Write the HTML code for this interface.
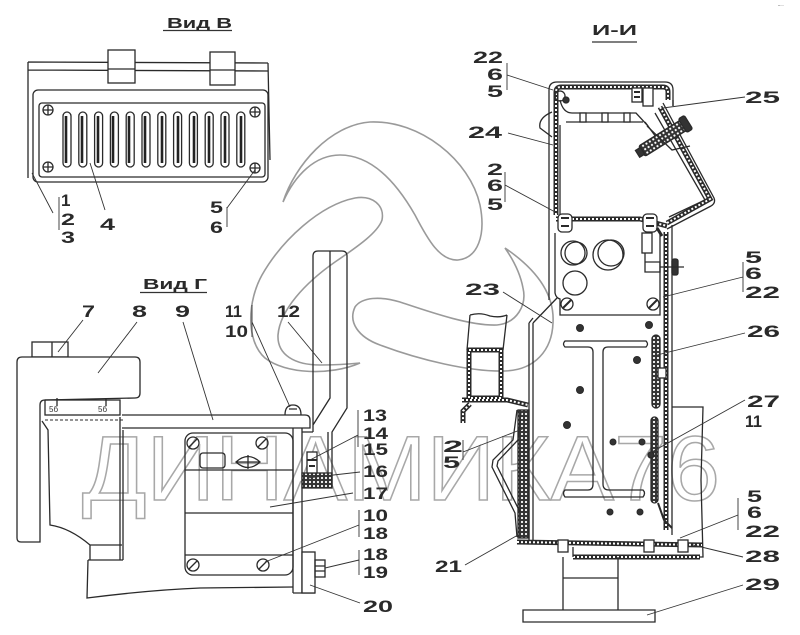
<!DOCTYPE html>
<html><head><meta charset="utf-8"><style>
html,body{margin:0;padding:0;background:#fff}
svg{display:block}
.l{font-family:"Liberation Sans",sans-serif;font-weight:bold;font-size:17px;fill:#2a2a2a}
.t{font-family:"Liberation Sans",sans-serif;font-weight:bold;font-size:15px;fill:#2a2a2a}
</style></head><body>
<svg width="800" height="635" viewBox="0 0 800 635" xmlns="http://www.w3.org/2000/svg">
<defs>
<pattern id="h" width="4" height="4" patternUnits="userSpaceOnUse"><rect width="4" height="4" fill="#333"/><circle cx="2" cy="2" r="1.1" fill="#fff"/></pattern>
</defs>
<rect width="800" height="635" fill="#fff"/>

<!-- watermark -->
<g fill="none" stroke="#9a9a9a" stroke-width="1.6">
<path d="M283,202 C295,165 330,125 370,122 C420,120 470,160 480,205 C486,235 478,258 458,260 C440,261 428,240 415,215 C395,180 370,155 340,155 C315,155 295,175 283,202 Z"/>
<path d="M360,363 C330,376 285,374 265,358 C245,340 248,300 262,275 C282,240 320,205 355,198 C372,195 385,205 382,220 C378,232 360,245 335,262 C305,283 280,310 278,335 C277,355 295,365 320,365 C335,365 350,364 360,363 Z"/>
<path d="M505,248 C530,265 555,290 553,323 C552,350 535,370 505,371 C470,372 420,360 380,345 C358,337 348,322 355,307 C362,297 380,296 400,302 C430,312 470,326 497,325 C517,323 527,305 523,288 C520,272 512,258 505,248 Z"/>
</g>
<text x="82" y="500" font-family="Liberation Sans, sans-serif" font-size="92" textLength="638" lengthAdjust="spacingAndGlyphs" fill="none" stroke="#a8a8a8" stroke-width="1.5">ДИНАМИКА76</text>

<!-- ============ VIEW B ============ -->
<text class="t" x="167" y="28" textLength="65" lengthAdjust="spacingAndGlyphs">Вид В</text>
<line x1="163" y1="30.5" x2="232" y2="30.5" stroke="#333" stroke-width="1.3"/>
<g stroke="#2a2a2a" fill="none" stroke-width="1.3">
<path d="M28,62 L268,63 M28,70 L268,71 M28,62 L28,178 M268,63 L270,160"/>
<rect x="108" y="50" width="27" height="33" fill="#fff"/>
<line x1="108" y1="69" x2="135" y2="69"/>
<rect x="210" y="52" width="25" height="33" fill="#fff"/>
<line x1="210" y1="70" x2="235" y2="70"/>
<rect x="33" y="90" width="235" height="92" rx="5" fill="#fff"/>
<rect x="39" y="103" width="226" height="74" rx="3"/>
<g>
<circle cx="48" cy="110" r="5"/><path d="M43,110h10M48,105v10"/>
<circle cx="255" cy="112" r="5"/><path d="M250,112h10M255,107v10"/>
<circle cx="48" cy="167" r="5"/><path d="M43,167h10M48,162v10"/>
<circle cx="255" cy="168" r="5"/><path d="M250,168h10M255,163v10"/>
</g>
<g>
<rect x="63" y="112" width="8" height="55" rx="4"/><rect x="78.8" y="112" width="8" height="55" rx="4"/><rect x="94.6" y="112" width="8" height="55" rx="4"/><rect x="110.4" y="112" width="8" height="55" rx="4"/><rect x="126.2" y="112" width="8" height="55" rx="4"/><rect x="142" y="112" width="8" height="55" rx="4"/><rect x="157.8" y="112" width="8" height="55" rx="4"/><rect x="173.6" y="112" width="8" height="55" rx="4"/><rect x="189.4" y="112" width="8" height="55" rx="4"/><rect x="205.2" y="112" width="8" height="55" rx="4"/><rect x="221" y="112" width="8" height="55" rx="4"/><rect x="236.8" y="112" width="8" height="55" rx="4"/>
</g>
<g stroke-width="2.6" stroke="#222">
<path d="M66,116v47M82,116v47M98,116v47M113,116v47M129,116v47M145,116v47M162,116v47M178,116v47M194,116v47M209,116v47M225,116v47M241,116v47"/>
</g>
</g>
<g stroke="#333" stroke-width="0.9" fill="none">
<path d="M53,213 L32,173 M59,197 L59,230 M105,210 L90,163 M227,208 L255,170 M227,207 L227,227"/>
</g>
<text class="l" x="61" y="206" font-size="13">1</text>
<text class="l" x="61" y="225" textLength="14" lengthAdjust="spacingAndGlyphs">2</text>
<text class="l" x="61" y="243" textLength="14" lengthAdjust="spacingAndGlyphs">3</text>
<text class="l" x="100" y="230" textLength="15" lengthAdjust="spacingAndGlyphs">4</text>
<text class="l" x="210" y="213" textLength="13" lengthAdjust="spacingAndGlyphs">5</text>
<text class="l" x="210" y="233" textLength="13" lengthAdjust="spacingAndGlyphs">6</text>

<!-- ============ VIEW Г ============ -->
<text class="t" x="143" y="289" textLength="64" lengthAdjust="spacingAndGlyphs">Вид Г</text>
<line x1="140" y1="292.5" x2="207" y2="292.5" stroke="#333" stroke-width="1.3"/>
<g stroke="#2a2a2a" fill="none" stroke-width="1.3">
<rect x="32" y="342" width="36" height="15"/><line x1="52" y1="342" x2="52" y2="357"/>
<path d="M17,362 Q17,357 22,357 L135,357 Q140,357 140,362 L140,393 Q140,398 135,398 L45,400 Q40,400 40,405 L40,542 L21,542 Q17,542 17,538 Z" fill="#fff"/>
<rect x="45" y="400" width="75" height="15"/>
<path d="M57,398v8M106,398v8"/>
<path d="M45,420 L125,420" stroke-dasharray="3 2" stroke-width="1"/>
<path d="M42,421 L48,430 L50,525 Q70,528 90,545 L90,560 M90,545 L122,545 M88,560 L123,560 M88,560 L87,598 Q150,590 200,588 L293,587"/>
<path d="M120,417 L120,560 M123,430 L123,560"/>
<path d="M122,415 L305,415 Q310,415 310,420 L310,428 L122,428"/>
<path d="M285,415 Q285,405 293,405 Q301,405 301,415 M289,409 L297,409"/>
<rect x="185" y="433" width="108" height="142" rx="8"/>
<path d="M185,470 L293,470 M185,513 L293,513 M185,555 L293,555"/>
<g>
<circle cx="193" cy="443" r="6"/><path d="M189,447 L197,439"/>
<circle cx="262" cy="443" r="6"/><path d="M258,447 L266,439"/>
<circle cx="193" cy="565" r="6"/><path d="M189,569 L197,561"/>
<circle cx="263" cy="565" r="6"/><path d="M259,569 L267,561"/>
</g>
<rect x="200" y="453" width="25" height="15" rx="3"/>
<path d="M236,462 Q248,451 260,462 Q248,473 236,462 Z M236,462 L260,462 M248,455 L248,469"/>
<path d="M293,428 L293,593 M302,428 L302,593 M293,593 L315,593"/>
<path d="M313,432 L313,256 Q313,251 318,251 L342,251 Q347,251 347,256 L347,408 L332,432 L332,487 M330,251 L330,398 L313,425 M302,432 L313,432 M328,432 L328,473"/>
<rect x="302" y="473" width="30" height="15" fill="url(#h)"/>
<rect x="307" y="452" width="10" height="21" fill="#fff"/>
<path d="M307,460 L317,460 M309,466 L315,466" stroke-width="2"/>
<rect x="302" y="552" width="13" height="41" fill="#fff"/>
<rect x="315" y="560" width="10" height="17"/>
<path d="M315,566 L325,566 M315,571 L325,571"/>
</g>
<g stroke="#333" stroke-width="0.9" fill="none">
<path d="M83,320 L58,352 M137,322 L98,373 M183,322 L213,420 M252,305 L252,337 M252,322 L290,407 M288,322 L322,363"/>
<path d="M358,410 L358,447 M358,435 L310,460 M360,472 L307,478 M353,493 L270,507 M359,510 L359,537 M359,525 L265,562 M359,550 L359,575 M359,560 L325,568 M360,603 L310,585"/>
</g>
<text class="l" x="82" y="317" textLength="13" lengthAdjust="spacingAndGlyphs">7</text>
<text class="l" x="132" y="317" textLength="15" lengthAdjust="spacingAndGlyphs">8</text>
<text class="l" x="175" y="317" textLength="15" lengthAdjust="spacingAndGlyphs">9</text>
<text class="l" x="225" y="317" textLength="17" lengthAdjust="spacingAndGlyphs">11</text>
<text class="l" x="225" y="337" textLength="23" lengthAdjust="spacingAndGlyphs">10</text>
<text class="l" x="277" y="317" textLength="23" lengthAdjust="spacingAndGlyphs">12</text>
<text class="l" x="363" y="421" textLength="24" lengthAdjust="spacingAndGlyphs">13</text>
<text class="l" x="363" y="439" textLength="25" lengthAdjust="spacingAndGlyphs">14</text>
<text class="l" x="363" y="455" textLength="25" lengthAdjust="spacingAndGlyphs">15</text>
<text class="l" x="363" y="477" textLength="25" lengthAdjust="spacingAndGlyphs">16</text>
<text class="l" x="363" y="499" textLength="25" lengthAdjust="spacingAndGlyphs">17</text>
<text class="l" x="363" y="521" textLength="25" lengthAdjust="spacingAndGlyphs">10</text>
<text class="l" x="363" y="539" textLength="25" lengthAdjust="spacingAndGlyphs">18</text>
<text class="l" x="363" y="560" textLength="25" lengthAdjust="spacingAndGlyphs">18</text>
<text class="l" x="363" y="578" textLength="25" lengthAdjust="spacingAndGlyphs">19</text>
<text class="l" x="363" y="612" textLength="30" lengthAdjust="spacingAndGlyphs">20</text>

<!-- ============ SECTION И-И ============ -->
<text class="t" x="592" y="35" textLength="45" lengthAdjust="spacingAndGlyphs">И-И</text>
<line x1="592" y1="42" x2="637" y2="42" stroke="#333" stroke-width="1.3"/>
<text x="778" y="7" font-family="Liberation Sans, sans-serif" font-size="6" fill="#555">-··</text>
<g stroke="#2a2a2a" fill="none" stroke-width="1.3">
<path d="M549,300 L549,90 Q549,82 557,82 L665,82 Q673,82 673,90 L673,106"/>
<path d="M552,112 Q538,118 540,128 L552,137"/>
<!-- hatched walls -->
<g stroke="#2a2a2a" stroke-width="5">
<path d="M556,215 L556,92 Q556,87 561,87 L663,87 Q668,87 668,92 L668,100"/>
<path d="M660,107 L710,199 L667,223"/>
<path d="M556,219 L640,219 L667,226"/>
<path d="M666,232 L666,530"/>
<path d="M517,542 L703,545"/>
<path d="M573,557 L700,557"/>
<path d="M462,400 L507,400 L528,405"/>
<path d="M470,404 L463,411 L463,423"/>
<path d="M469,350 L501,350 L501,398 L469,398 Z"/>
</g>
<g stroke="#fff" stroke-width="2" stroke-dasharray="2 2">
<path d="M556,215 L556,92 Q556,87 561,87 L663,87 Q668,87 668,92 L668,100"/>
<path d="M660,107 L710,199 L667,223"/>
<path d="M556,219 L640,219 L667,226"/>
<path d="M666,232 L666,530"/>
<path d="M517,542 L703,545"/>
<path d="M573,557 L700,557"/>
<path d="M462,400 L507,400 L528,405"/>
<path d="M470,404 L463,411 L463,423"/>
<path d="M469,350 L501,350 L501,398 L469,398 Z"/>
</g>
<path d="M663,103 L714,198 Q716,203 711,206 L667,229 M655,113 L705,200 L669,217"/>
<path d="M560,100 Q563,113 572,113 L636,113 L648,126 M566,122 L643,122 M560,125 L560,217"/>
<rect x="580" y="113" width="6" height="9" fill="#fff"/><rect x="602" y="113" width="6" height="9" fill="#fff"/><rect x="624" y="113" width="6" height="9" fill="#fff"/>
<path d="M645,122 L656,137"/>
<circle cx="560" cy="96" r="5"/><circle cx="566" cy="100" r="3" fill="#333"/>
<rect x="632" y="88" width="10" height="14" fill="#fff"/><rect x="643" y="88" width="10" height="18" fill="#fff"/>
<path d="M634,92 h6 M634,97 h6" stroke-width="2"/>
<g transform="rotate(-32 663 138)">
<rect x="638" y="132" width="52" height="12" rx="2" fill="url(#h)"/>
<rect x="633" y="134" width="6" height="8" fill="#333"/>
<rect x="686" y="130" width="7" height="16" rx="2" fill="#333"/>
</g>
<path d="M647,126 L672,150 L690,146"/>
<rect x="558" y="214" width="14" height="18" rx="4" fill="#fff"/><path d="M561,218 h8 M561,226 h8" stroke-width="2"/>
<rect x="643" y="214" width="14" height="18" rx="4" fill="#fff"/><path d="M646,218 h8 M646,226 h8" stroke-width="2"/>
<path d="M657,228 L662,236" stroke-width="3"/>
<!-- lower panel -->
<path d="M555,233 L555,293 Q556,298 560,299 L560,315 L660,315 L660,233"/>
<circle cx="573" cy="253" r="12"/><circle cx="576" cy="253" r="11"/>
<circle cx="608" cy="255" r="15"/><circle cx="611" cy="253" r="13"/>
<circle cx="575" cy="283" r="12"/>
<circle cx="567" cy="304" r="6"/><path d="M563,308 L571,300" stroke-width="2"/>
<circle cx="653" cy="304" r="6"/><path d="M649,308 L657,300" stroke-width="2"/>
<rect x="642" y="233" width="10" height="20"/>
<path d="M645,253 L645,262 L660,262 L660,272 L645,272 Z"/>
<rect x="672" y="259" width="6" height="16" rx="2" fill="#333"/>
<path d="M660,267 L684,267"/>
<path d="M673,100 L673,106 M672,225 L672,535"/>
<path d="M557,298 L533,323 M529,323 L529,540 M533,323 L533,540 M529,323 L533,318"/>
<!-- I-beam -->
<path d="M565,341 L646,341 Q649,344 646,347 L608,347 Q603,347 603,352 L603,484 Q603,490 609,490 L643,490 Q646,493 643,497 L565,497 Q562,493 565,490 L588,490 Q593,490 593,484 L593,352 Q593,347 588,347 L565,347 Q562,344 565,341 Z"/>
<g fill="#333" stroke-width="1">
<circle cx="580" cy="328" r="3.5"/><circle cx="649" cy="325" r="3.5"/><circle cx="637" cy="360" r="3.5"/><circle cx="580" cy="390" r="3.5"/><circle cx="567" cy="425" r="3.5"/><circle cx="613" cy="442" r="3"/><circle cx="642" cy="442" r="3"/><circle cx="610" cy="512" r="3"/><circle cx="640" cy="512" r="3"/>
</g>
<rect x="652" y="335" width="8" height="73" rx="4" fill="url(#h)"/>
<rect x="651" y="417" width="7" height="86" rx="3.5" fill="url(#h)"/>
<rect x="658" y="368" width="8" height="10" fill="#fff"/>
<circle cx="651" cy="455" r="3" fill="#333"/>
<path d="M658,503 L664,520 L672,528" stroke-width="2"/>
<!-- right frame -->
<path d="M672,407 L703,407 L701,480 L703,557 L700,557"/>
<!-- bottom -->
<rect x="558" y="540" width="10" height="12" fill="#fff"/><rect x="644" y="540" width="10" height="12" fill="#fff"/><rect x="678" y="540" width="10" height="12" fill="#fff"/>
<path d="M573,547 L573,557"/>
<path d="M563,557 L563,610 M618,557 L618,610 M563,578 L618,578"/>
<path d="M523,610 L655,610 L655,622 L523,622 Z"/>
<!-- part 21 -->
<rect x="518" y="410" width="11" height="128" fill="url(#h)"/>
<path d="M517,410 L513,440 L493,460 L492,467 L515,513 L517,537 M521,412 L518,440 L498,461 L497,466 L520,512"/>
<!-- frame profile -->
<path d="M470,315 Q480,312 490,316 Q500,318 507,315 M470,315 L467,350 M507,315 L503,350"/>
</g>
<g stroke="#333" stroke-width="0.9" fill="none">
<path d="M507,63 L507,90 M507,75 L553,90 M745,97 L663,108 M508,133 L553,145 M505,172 L505,202 M505,185 L557,213 M743,262 L743,292 M743,277 L663,297 M503,292 L552,323"/>
<path d="M745,333 L657,355 M745,400 L650,453 M463,440 L463,460 M463,452 L525,428 M738,498 L738,530 M738,515 L680,538 M743,557 L693,545 M743,585 L647,615 M465,565 L518,535"/>
</g>
<text class="l" x="473" y="63" textLength="30" lengthAdjust="spacingAndGlyphs">22</text>
<text class="l" x="487" y="80" textLength="16" lengthAdjust="spacingAndGlyphs">6</text>
<text class="l" x="487" y="97" textLength="16" lengthAdjust="spacingAndGlyphs">5</text>
<text class="l" x="745" y="103" textLength="35" lengthAdjust="spacingAndGlyphs">25</text>
<text class="l" x="468" y="138" textLength="34" lengthAdjust="spacingAndGlyphs">24</text>
<text class="l" x="487" y="175" textLength="16" lengthAdjust="spacingAndGlyphs">2</text>
<text class="l" x="487" y="191" textLength="16" lengthAdjust="spacingAndGlyphs">6</text>
<text class="l" x="487" y="210" textLength="16" lengthAdjust="spacingAndGlyphs">5</text>
<text class="l" x="745" y="263" textLength="17" lengthAdjust="spacingAndGlyphs">5</text>
<text class="l" x="745" y="279" textLength="17" lengthAdjust="spacingAndGlyphs">6</text>
<text class="l" x="745" y="298" textLength="35" lengthAdjust="spacingAndGlyphs">22</text>
<text class="l" x="465" y="295" textLength="35" lengthAdjust="spacingAndGlyphs">23</text>
<text class="l" x="747" y="337" textLength="33" lengthAdjust="spacingAndGlyphs">26</text>
<text class="l" x="747" y="407" textLength="33" lengthAdjust="spacingAndGlyphs">27</text>
<text class="l" x="745" y="427" textLength="17" lengthAdjust="spacingAndGlyphs">11</text>
<text class="l" x="443" y="452" textLength="20" lengthAdjust="spacingAndGlyphs">2</text>
<text class="l" x="443" y="468" textLength="17" lengthAdjust="spacingAndGlyphs">5</text>
<text class="l" x="747" y="502" textLength="15" lengthAdjust="spacingAndGlyphs">5</text>
<text class="l" x="747" y="518" textLength="15" lengthAdjust="spacingAndGlyphs">6</text>
<text class="l" x="745" y="537" textLength="35" lengthAdjust="spacingAndGlyphs">22</text>
<text class="l" x="745" y="562" textLength="35" lengthAdjust="spacingAndGlyphs">28</text>
<text class="l" x="745" y="590" textLength="35" lengthAdjust="spacingAndGlyphs">29</text>
<text class="l" x="435" y="572" textLength="27" lengthAdjust="spacingAndGlyphs">21</text>
<g font-family="Liberation Sans, sans-serif" font-size="8" fill="#333"><text x="49" y="412">5б</text><text x="98" y="412">5б</text></g>
</svg>
</body></html>
